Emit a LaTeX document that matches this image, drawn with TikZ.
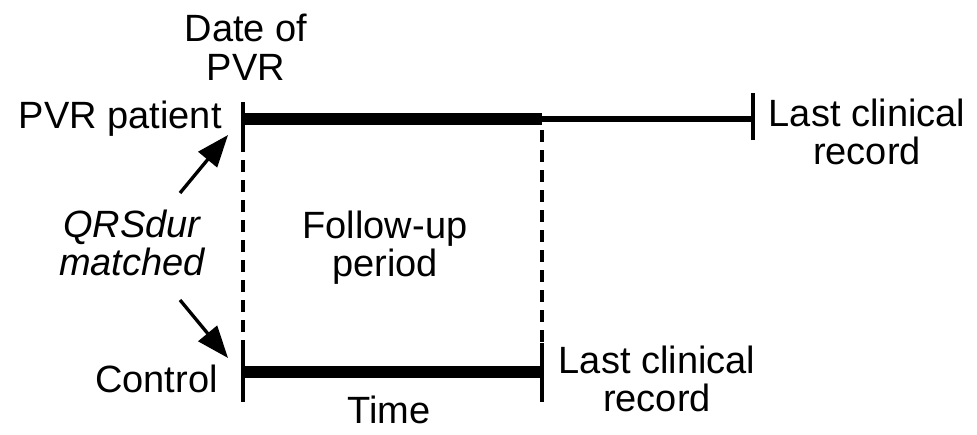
\documentclass[tikz,border=0pt]{standalone}
\usepackage{fontspec}
\setmainfont{Liberation Sans}
\usetikzlibrary{arrows.meta}
\newcommand{\twol}[2]{\begin{tabular}[t]{@{}c@{}}#1\\#2\end{tabular}}
\begin{document}
\begin{tikzpicture}[x=0.75pt,y=-0.75pt,
  lab/.style={font=\fontsize{28.5}{28.5}\selectfont, inner sep=0pt, anchor=base},
  thickbar/.style={line width=8.6pt},
  thinbar/.style={line width=4.4pt},
  tickmark/.style={line width=2.5pt},
  guide/.style={line width=2.5pt, dash pattern=on 9pt off 6pt},
  matcharrow/.style={line width=2.5pt, -{Triangle[length=24pt,width=18pt]}}]
\useasboundingbox (0,0) rectangle (977,435);

% timeline coordinates
\coordinate (pS) at (243,119);
\coordinate (pF) at (542,119);
\coordinate (pE) at (753,119);
\coordinate (cS) at (243,372);
\coordinate (cE) at (542,372);

% tick ends
\coordinate (pSt) at (243,102);
\coordinate (pSb) at (243,140);
\coordinate (pEt) at (753,93);
\coordinate (pEb) at (753,140);
\coordinate (cSt) at (243,347);
\coordinate (cSb) at (243,402);
\coordinate (cEt) at (542,343);
\coordinate (cEb) at (542,402);
\coordinate (pFb) at (542,130);

% bars
\draw[thickbar] (pS) -- (pF);
\draw[thinbar] (pF) -- (pE);
\draw[thickbar] (cS) -- (cE);

% ticks
\draw[tickmark] (pSt) -- (pSb);
\draw[tickmark] (pEt) -- (pEb);
\draw[tickmark] (cSt) -- (cSb);
\draw[tickmark] (cEt) -- (cEb);

% dashed guides
\draw[guide] (pSb) -- (cSt);
\draw[guide] (pFb) -- (cEt);

% labels
\node[lab] (date) at (246,42) {\twol{Date of}{PVR}};
\node[lab, anchor=base east] (pvr) at (222,128) {PVR patient};
\node[lab] (qrs) at (132,237) {\twol{\itshape QRSdur}{\itshape matched}};
\node[lab] (fu) at (385,238) {\twol{Follow-up}{period}};
\node[lab, anchor=base east] (ctl) at (218,392) {Control};
\node[lab] (time) at (389,423) {Time};
\node[lab] (lcr1) at (867,126) {\twol{Last clinical}{record}};
\node[lab] (lcr2) at (657,373) {\twol{Last clinical}{record}};

% matching arrows
\coordinate (a1s) at (180,193);
\coordinate (a1e) at (228,135);
\coordinate (a2s) at (180,300);
\coordinate (a2e) at (228,358);
\draw[matcharrow] (a1s) -- (a1e);
\draw[matcharrow] (a2s) -- (a2e);
\end{tikzpicture}
\end{document}
